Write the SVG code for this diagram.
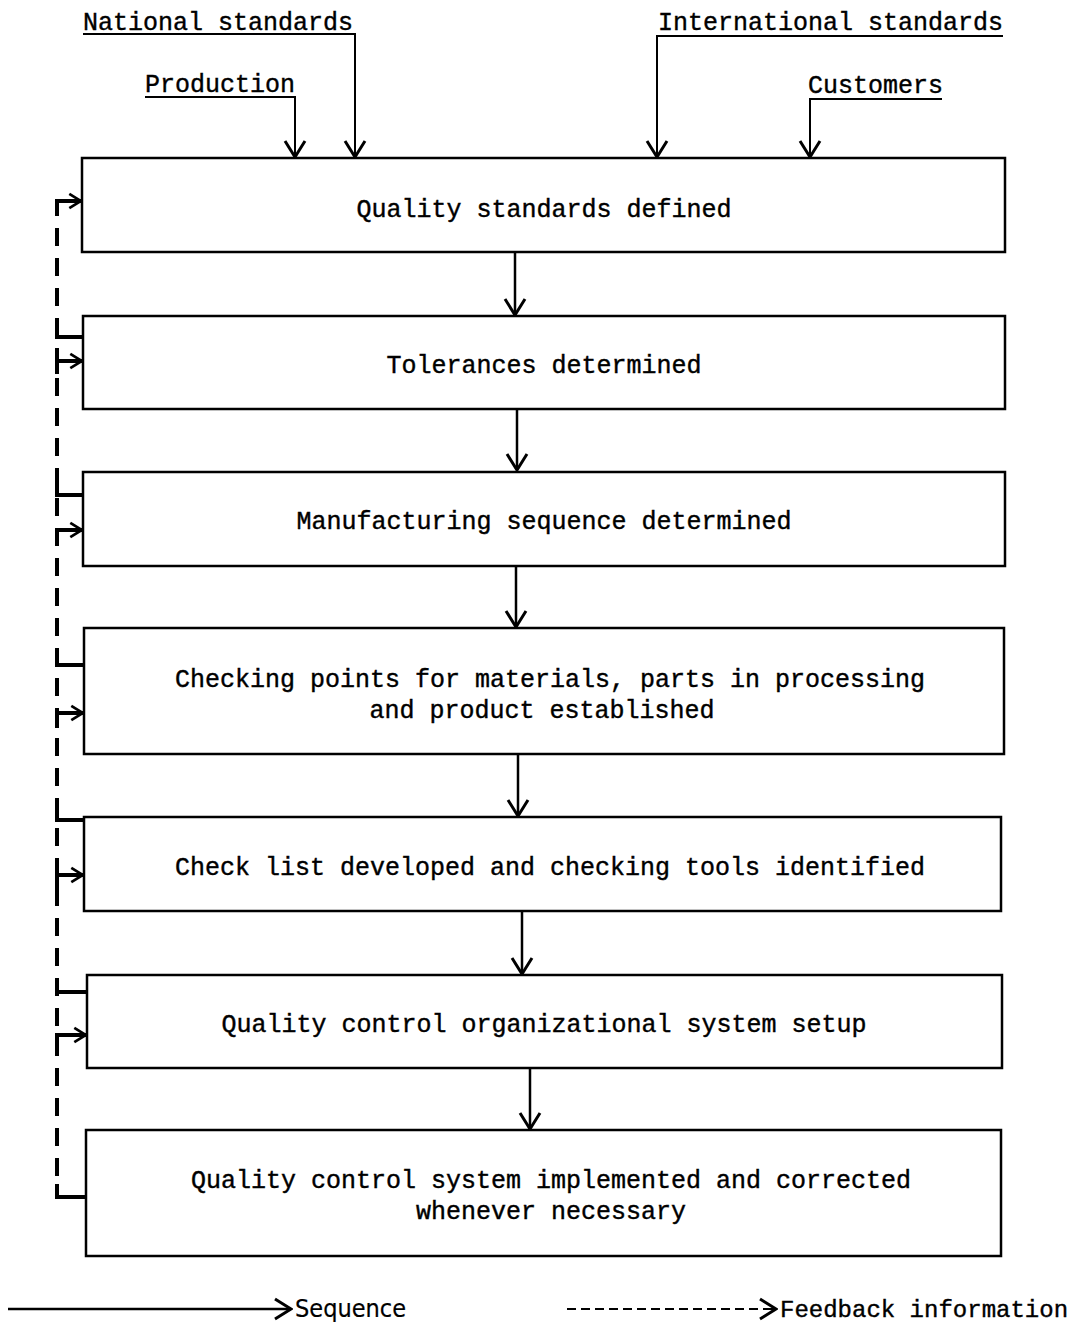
<svg xmlns="http://www.w3.org/2000/svg" width="1089" height="1324" viewBox="0 0 1089 1324">
<defs>
<marker id="v" viewBox="0 0 24 24" refX="22" refY="12" markerWidth="24" markerHeight="24" markerUnits="userSpaceOnUse" orient="auto">
<polyline points="6,2 22,12 6,22" fill="none" stroke="#000" stroke-width="3"/>
</marker>
<marker id="vs" viewBox="0 0 20 20" refX="18" refY="10" markerWidth="18" markerHeight="18" markerUnits="userSpaceOnUse" orient="auto">
<polyline points="5,2 18,10 5,18" fill="none" stroke="#000" stroke-width="3"/>
</marker>
</defs>
<style>
rect.box{fill:#fff;stroke:#000;stroke-width:2.5}
text{font-family:"Liberation Mono","DejaVu Sans Mono",monospace;font-size:25px;fill:#000;stroke:#000;stroke-width:0.4}
.c{text-anchor:middle}
.seq{fill:none;stroke:#000;stroke-width:2.5;marker-end:url(#v)}
.ln{fill:none;stroke:#000;stroke-width:2}
.fb{fill:none;stroke:#000;stroke-width:4;stroke-dasharray:18 12}
.hook{fill:none;stroke:#000;stroke-width:4;marker-end:url(#vs)}
.stub{fill:none;stroke:#000;stroke-width:4}
.sans{font-family:"Liberation Sans Narrow","DejaVu Sans Condensed","Liberation Sans",sans-serif}
</style>
<rect width="1089" height="1324" fill="#fff"/>

<g id="in-national">
<text x="83" y="30">National standards</text>
<path class="ln" d="M83,34 H355 V156"/>
</g>
<g id="in-production">
<text x="145" y="92">Production</text>
<path class="ln" d="M145,97 H295 V156"/>
</g>
<g id="in-international">
<text x="658" y="30">International standards</text>
<path class="ln" d="M1003,36 H657 V156"/>
</g>
<g id="in-customers">
<text x="808" y="93">Customers</text>
<path class="ln" d="M942,99 H810 V156"/>
</g>

<g id="n1"><rect class="box" x="82" y="158" width="923" height="94"/><text class="c" x="544" y="217">Quality standards defined</text></g>
<g id="n2"><rect class="box" x="83" y="316" width="922" height="93"/><text class="c" x="544" y="373">Tolerances determined</text></g>
<g id="n3"><rect class="box" x="83" y="472" width="922" height="94"/><text class="c" x="544" y="529">Manufacturing sequence determined</text></g>
<g id="n4"><rect class="box" x="84" y="628" width="920" height="126"/><text class="c" x="550" y="687">Checking points for materials, parts in processing</text><text class="c" x="542" y="718">and product established</text></g>
<g id="n5"><rect class="box" x="84" y="817" width="917" height="94"/><text class="c" x="550" y="875">Check list developed and checking tools identified</text></g>
<g id="n6"><rect class="box" x="87" y="975" width="915" height="93"/><text class="c" x="544" y="1032">Quality control organizational system setup</text></g>
<g id="n7"><rect class="box" x="86" y="1130" width="915" height="126"/><text class="c" x="551" y="1188">Quality control system implemented and corrected</text><text class="c" x="551" y="1219">whenever necessary</text></g>

<g id="connectors">
<path class="ln" d="M355,150 V157" marker-end="url(#v)"/>
<path class="ln" d="M295,150 V157" marker-end="url(#v)"/>
<path class="ln" d="M657,150 V157" marker-end="url(#v)"/>
<path class="ln" d="M810,150 V157" marker-end="url(#v)"/>
<path class="seq" d="M515,253 V315"/>
<path class="seq" d="M517,410 V470"/>
<path class="seq" d="M516,567 V627"/>
<path class="seq" d="M518,755 V816"/>
<path class="seq" d="M522,912 V974"/>
<path class="seq" d="M530,1069 V1129"/>
<path class="fb" d="M57,228 V1184"/>
<path class="hook" d="M57,216 V201 H81"/>
<path class="stub" d="M57,322 V337 H83"/>
<path class="hook" d="M57,374 V361 H82"/>
<path class="stub" d="M57,480 V495 H83"/>
<path class="hook" d="M57,544 V530 H82"/>
<path class="stub" d="M57,650 V665 H84"/>
<path class="hook" d="M57,728 V713 H83"/>
<path class="stub" d="M57,805 V820 H84"/>
<path class="hook" d="M57,889 V875 H83"/>
<path class="stub" d="M57,978 V992 H87"/>
<path class="hook" d="M57,1049 V1035 H86"/>
<path class="stub" d="M57,1184 V1197 H86"/>
</g>

<g id="legend">
<path class="seq" d="M8,1309 H291"/>
<text class="sans" x="295" y="1317" style="stroke-width:0.2">Sequence</text>
<path class="fb" style="stroke-width:2;stroke-dasharray:9 5" d="M567,1309 H775"/>
<path class="ln" d="M770,1309 H776" marker-end="url(#v)"/>
<text x="780" y="1317" style="font-size:24px">Feedback information</text>
</g>
</svg>
